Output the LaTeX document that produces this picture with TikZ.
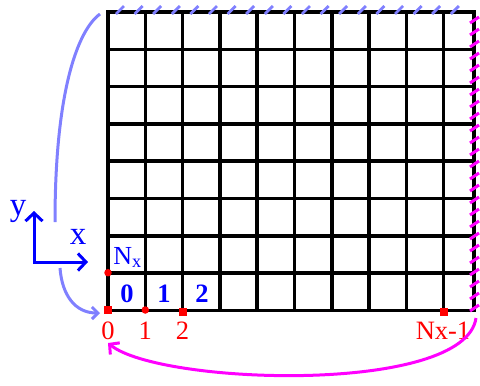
\documentclass[tikz,border=0pt]{standalone}
\usepackage{fontspec}
\setmainfont{Liberation Serif}
\usetikzlibrary{arrows.meta,positioning}
\definecolor{wrapmag}{RGB}{255,0,255}
\definecolor{wrapblue}{RGB}{128,128,255}

\begin{document}
\begin{tikzpicture}[x=1pt, y=-1pt,
  gridline/.style={line width=3.5pt, line cap=rect, black},
  sqdot/.style={fill=red, inner sep=0pt, minimum size=8pt},
  rddot/.style={circle, fill=red, inner sep=0pt, minimum size=7.5pt},
  idx/.style={text=red, inner sep=0pt, font=\fontsize{26.5}{26.5}\selectfont},
  cell/.style={text=blue, inner sep=0pt, font=\fontsize{26.5}{26.5}\selectfont\bfseries},
  axlab/.style={text=blue, inner sep=0pt, font=\fontsize{33}{33}\selectfont},
  axarr/.style={blue, line width=3pt, {Straight Barb[length=8pt,width=17pt]}-{Straight Barb[length=8pt,width=17pt]}},
  wrapy/.style={wrapblue, line width=3pt, -{Straight Barb[length=6pt,width=12pt]}},
  wrapx/.style={wrapmag, line width=3pt, -{Straight Barb[length=7pt,width=15pt]}}
]
  \useasboundingbox (0,0) rectangle (480,386);
  % mesh
  \foreach \i in {0,...,9} \draw[gridline] (108+37.3*\i,12) -- (108+37.3*\i,310.4);
  \draw[gridline] (474,12) -- (474,310.4);
  \foreach \j in {0,...,8} \draw[gridline] (108,12+37.3*\j) -- (474,12+37.3*\j);
  % periodic boundaries
  \foreach \x in {116,134.6,...,466} \draw[wrapblue, line width=2.8pt] (\x,14) -- (\x+8,6);
  \foreach \y in {20,32,...,308} \draw[wrapmag, line width=3pt] (470,\y+3) -- (479,\y-3);
  % grid points
  \node[sqdot] (o0) at (108,310) {};
  \node[rddot] (o1) at (145.3,310) {};
  \node[sqdot] (o2) at (182.6,312) {};
  \node[sqdot] (oN) at (443.7,312) {};
  \node[rddot] (oNx) at (108,272.7) {};
  \node[idx] (l0) at (108,331) {0};
  \node[idx] (l1) at (145.3,331) {1};
  \node[idx] (l2) at (182.6,331) {2};
  \node[idx] (lN) at (443,331) {Nx-1};
  \node[cell] (c0) at (127,294) {0};
  \node[cell] (c1) at (164,294) {1};
  \node[cell] (c2) at (202,294) {2};
  \node[text=blue, inner sep=0pt, font=\fontsize{26}{26}\selectfont] (nx) at (127.5,257.5) {N\textsubscript{x}};
  % axes
  \coordinate (ax) at (34,262);
  \coordinate (axx) at (88,262);
  \coordinate (axy) at (34,211);
  \draw[axarr] (axy) -- (ax) -- (axx);
  \node[axlab] (ylab) at (18,211) {y};
  \node[axlab] (xlab) at (78,237) {x};
  % wrap-around arrows
  \coordinate (ws) at (100,14);
  \coordinate (wm) at (55,222);
  \coordinate (wm2) at (60,268);
  \coordinate (we) at (100,313);
  \draw[wrapblue, line width=3pt] (ws) .. controls (78,30) and (55,90) .. (wm);
  \draw[wrapy] (wm2) .. controls (62,295) and (75,313) .. (we);
  \coordinate (ps) at (476,318);
  \coordinate (pe) at (108,343);
  \draw[wrapx] (ps) .. controls (465,395) and (160,385) .. (pe);
\end{tikzpicture}
\end{document}
